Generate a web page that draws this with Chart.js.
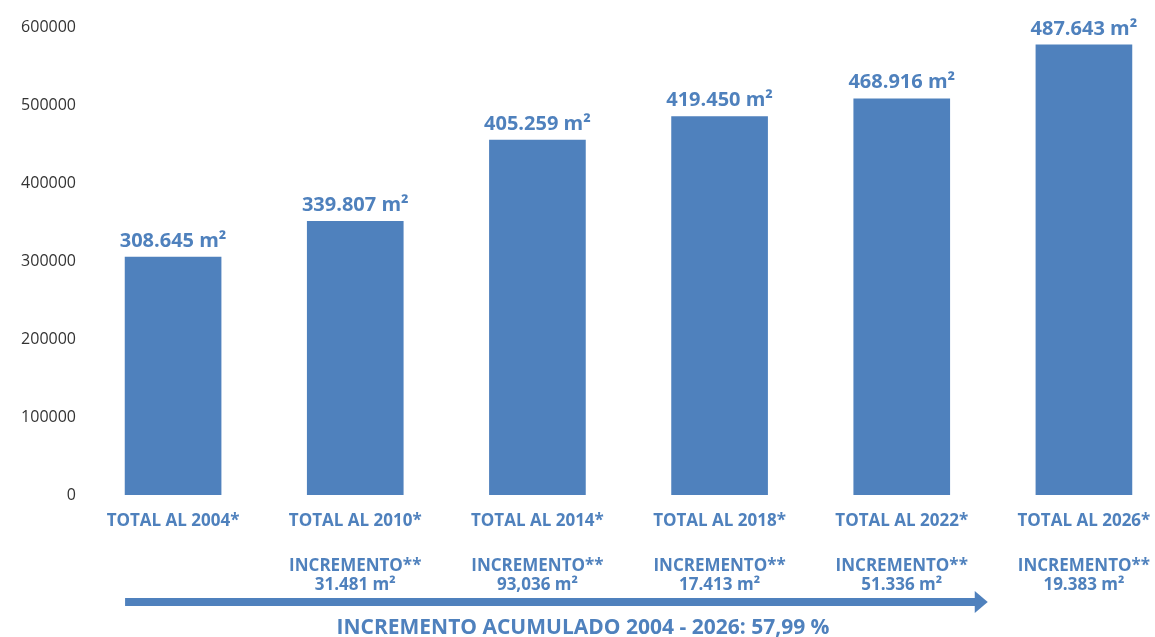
<!DOCTYPE html>
<html>
<head>
<meta charset="utf-8">
<script src="https://cdn.jsdelivr.net/npm/chart.js@4"></script>
<style>
  body { margin: 0; background: #fff; overflow: hidden; }
  #caja { width: 1175px; height: 637px; position: relative; }
</style>
</head>
<body>
<div id="caja"><canvas id="grafica"></canvas></div>
<script>
// DATOS DE LA GRAFICA
const categorias = ['TOTAL AL 2004*', 'TOTAL AL 2010*', 'TOTAL AL 2014*', 'TOTAL AL 2018*', 'TOTAL AL 2022*', 'TOTAL AL 2026*'];
const valoresBarras = [305000, 351000, 455000, 485000, 508000, 577000];
const etiquetasTotales = ['308.645 m²', '339.807 m²', '405.259 m²', '419.450 m²', '468.916 m²', '487.643 m²'];
const incrementos = [null, '31.481 m²', '93,036 m²', '17.413 m²', '51.336 m²', '19.383 m²'];
const ticksY = [0, 100000, 200000, 300000, 400000, 500000, 600000];
const tituloAcumulado = 'INCREMENTO ACUMULADO 2004 - 2026: 57,99 %';

const AZUL = '#4f81bd';
const FUENTE = '"Open Sans", "DejaVu Sans", sans-serif';

// PLUGIN PARA ETIQUETAS, INCREMENTOS Y FLECHA
const extrasPlugin = {
    id: 'extras',
    afterDatasetsDraw(chart) {
        const ctx = chart.ctx;
        const barras = chart.getDatasetMeta(0).data;
        const area = chart.chartArea;
        ctx.save();
        ctx.fillStyle = AZUL;
        ctx.textAlign = 'center';

        // valores encima de cada barra
        ctx.font = 'bold 20px ' + FUENTE;
        ctx.textBaseline = 'bottom';
        barras.forEach((b, i) => {
            ctx.fillText(etiquetasTotales[i], b.x, b.y - 6);
        });

        // textos de incremento debajo
        ctx.font = 'bold 17px ' + FUENTE;
        ctx.textBaseline = 'middle';
        barras.forEach((b, i) => {
            if (!incrementos[i]) return;
            const yBase = area.bottom + 71;
            ctx.fillText('INCREMENTO**', b.x, yBase);
            ctx.fillText(incrementos[i], b.x, yBase + 19);
        });

        // flecha (acaba pasada la barra de 2022)
        const x0 = barras[0].x - barras[0].width / 2;
        const x1 = barras[4].x + barras[4].width / 2 + 38;
        const yF = area.bottom + 107;
        ctx.fillRect(x0, yF - 4, x1 - x0 - 12, 8);
        ctx.beginPath();
        ctx.moveTo(x1 - 13, yF - 11);
        ctx.lineTo(x1, yF);
        ctx.lineTo(x1 - 13, yF + 11);
        ctx.closePath();
        ctx.fill();

        // titulo acumulado
        ctx.font = 'bold 21px ' + FUENTE;
        ctx.fillText(tituloAcumulado, 583, area.bottom + 133);
        ctx.restore();
    }
};

const ctx = document.getElementById('grafica').getContext('2d');
new Chart(ctx, {
    type: 'bar',
    data: {
        labels: categorias,
        datasets: [{
            data: valoresBarras,
            backgroundColor: AZUL,
            borderWidth: 0,
            barThickness: 96
        }]
    },
    options: {
        responsive: true,
        maintainAspectRatio: false,
        animation: false,
        layout: { padding: { top: 27, right: 0, left: 0, bottom: 0 } },
        plugins: {
            legend: { display: false },
            tooltip: { enabled: false }
        },
        scales: {
            x: {
                grid: { display: false, drawTicks: false },
                border: { display: false },
                ticks: {
                    color: AZUL,
                    padding: 16,
                    maxRotation: 0,
                    autoSkip: false,
                    font: { family: FUENTE, size: 17, weight: 'bold' }
                },
                afterFit(scale) { scale.height = 142; }
            },
            y: {
                min: 0,
                max: 600000,
                grid: { display: false, drawTicks: false },
                border: { display: false },
                afterBuildTicks(scale) {
                    scale.ticks = ticksY.map(v => ({ value: v }));
                },
                ticks: {
                    color: '#333333',
                    padding: 6,
                    font: { family: FUENTE, size: 16 },
                    callback: v => String(v)
                },
                afterFit(scale) { scale.width = 82; }
            }
        }
    },
    plugins: [extrasPlugin]
});
</script>
</body>
</html>
